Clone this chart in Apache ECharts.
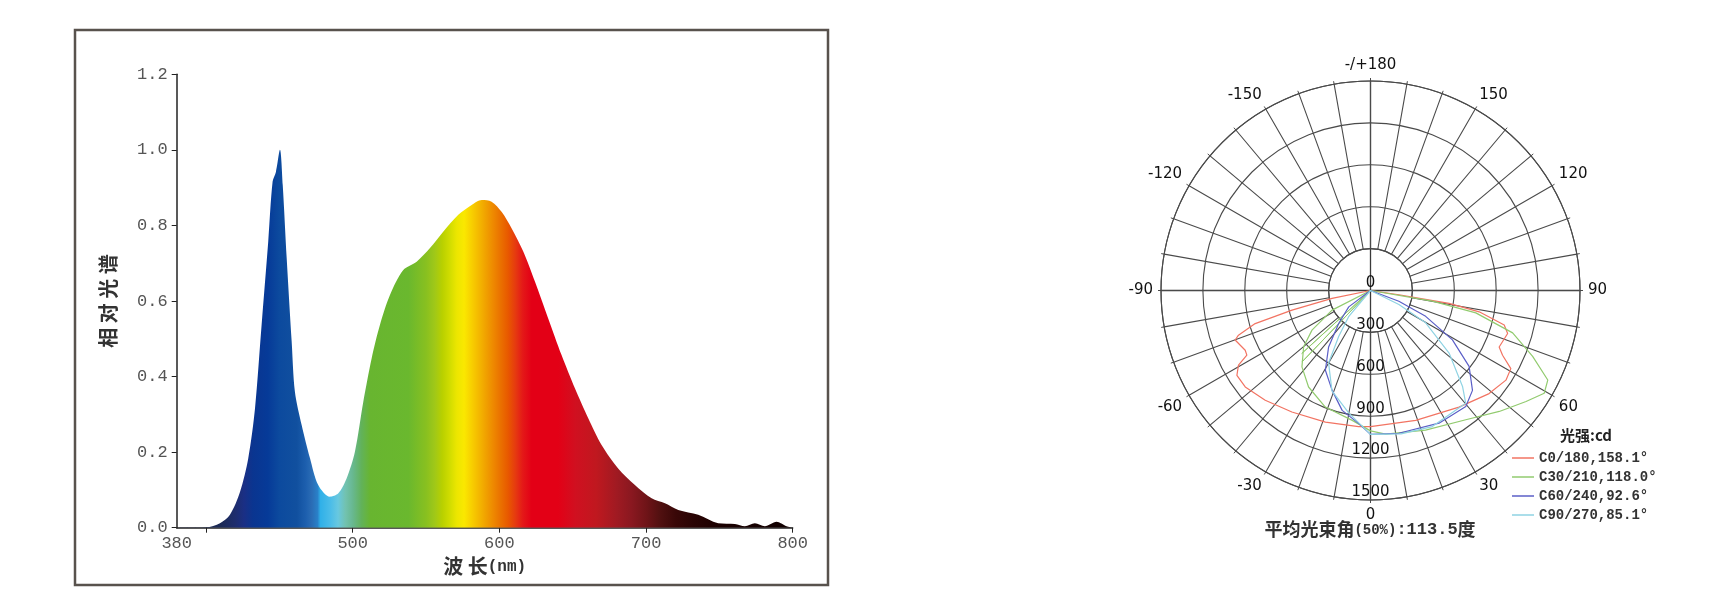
<!DOCTYPE html>
<html><head><meta charset="utf-8">
<script src="https://cdn.jsdelivr.net/npm/echarts@6/dist/echarts.min.js"></script>
<style>html,body{margin:0;padding:0;background:#fff}#c{width:1715px;height:606px}</style>
</head><body><div id="c"></div>
<script>
// ---- Spectrum data ----
const wavelengths = [380,400,409.5,416.3,423.2,428.8,433.4,437.9,442.4,445.4,447.7,450.4,452.3,455,458.4,460.6,465.2,470.9,476.5,484.5,490.2,495.9,501.5,507.2,512.9,518.6,525.4,534.5,543.6,552.7,561.7,572,581.1,588,594.7,601.5,608.4,616.3,624.3,633.3,642.4,651.5,660.6,669.7,681,692.4,703.8,712.9,722,735.6,749.2,760.6,767.4,774.2,781,789,795.8,800];
const relSpectrum = [0,0.001,0.012,0.034,0.095,0.184,0.316,0.537,0.757,0.916,0.942,1.0,0.907,0.713,0.492,0.36,0.272,0.184,0.113,0.082,0.091,0.131,0.201,0.333,0.448,0.537,0.616,0.682,0.704,0.74,0.783,0.828,0.854,0.867,0.863,0.836,0.792,0.731,0.651,0.554,0.457,0.369,0.29,0.219,0.157,0.113,0.078,0.065,0.047,0.034,0.012,0.01,0.004,0.012,0.004,0.016,0.004,0];
const xLabelValues = [380,500,600,700,800];
const xTickValues = [400,500,600,700,800];

// ---- Polar (light distribution) data: [intensity cd], [gamma deg] ----
const c0Angle = [-90,-78.5,-76,-74,-71.3,-69.9,-64.5,-62.4,-60.5,-57.6,-52.4,-43.8,-32.9,-18.9,-5,0,19.2,37.2,49,56.5,60.9,63.9,66.3,72.6,75.5,78.9,80.7,81.5,90];
const c0Int   = [0,281,579,859,998,1032,994,999,1086,1133,1132,1089,1036,996,979,975,985,1048,1125,1163,1150,1053,1006,1029,989,793,570,206,0];
const c30Angle = [-90,-63,-55.9,-49.9,-41.9,-32.7,-21.2,-8,0,6,21.5,36.4,46.8,54.5,59.4,63.2,67.9,73.4,78,80.2,90];
const c30Int   = [0,309,506,626,735,821,895,939,1005,1034,1075,1150,1265,1368,1445,1422,1253,1062,771,450,0];
const c30SpokeAngle = [-90,-43.8,-90,-47.5,-90];
const c30SpokeInt   = [0,708,0,668,0];
const c60Angle = [-90,-53,-44,-36.6,-29.5,-21,-13.3,-5,0,11.2,27.3,39.4,45.6,52.4,58.9,64.9,69.3,90];
const c60Int   = [0,195,328,503,656,766,882,957,1030,1042,1069,1075,1022,891,685,436,217,0];
const c90Angle = [-90,-40,-34.7,-30,-21,-10,0,12,24.4,40.2,43.8,51.5,59.6,63.7,90];
const c90Int   = [0,241,399,600,770,892,1030,1050,1070,1056,952,719,458,227,0];
const seriesNames = ['C0/180,158.1°','C30/210,118.0°','C60/240,92.6°','C90/270,85.1°'];
const seriesColors = ['#f27463','#92cb6f','#5b5fc7','#8fd3e3'];

function pairs(a, b){ return a.map((v,i)=>[v,b[i]]); }
// gamma angle (-180..180) -> angle axis value (0..360)
function toAxis(g){ return g < 0 ? g + 360 : g; }
function polarPairs(ints, angs){ return ints.map((v,i)=>[v, toAxis(angs[i])]); }

// spectrum gradient stops (wavelength -> colour)
const specStops = [
 [380,'#1c2a55'],[410,'#1c2a55'],[420,'#1e2d6e'],[426,'#1a2f85'],[432,'#0a3590'],[442,'#063a98'],[450,'#0c4a9e'],[462,'#11509f'],[468,'#1d5fae'],[472,'#2a6cb5'],[476,'#2a80c8'],[478,'#30b0e8'],[485,'#4cbde8'],[490,'#68c8e0'],[495,'#72c2b0'],[500,'#68b890'],[506,'#62b25a'],[512,'#68b530'],[538,'#6ab82e'],[550,'#88c020'],[556,'#a0c818'],[561,'#b8d000'],[566,'#d0dc00'],[571,'#ece600'],[576,'#fae800'],[581,'#f8d000'],[586,'#f4b800'],[591,'#f0a000'],[596,'#ee8800'],[601,'#ea7000'],[606,'#e85800'],[611,'#e63a10'],[616,'#e41818'],[622,'#e30016'],[640,'#e30016'],[652,'#d01020'],[666,'#c0181f'],[680,'#a01a22'],[690,'#8a1820'],[700,'#701418'],[710,'#501010'],[720,'#3a0808'],[732,'#2a0404'],[750,'#1a0000'],[800,'#100000']
];
const gradStops = specStops.map(s=>({offset:(s[0]-380)/420, color:s[1]}));

const chart = echarts.init(document.getElementById('c'), null, {renderer:'canvas'});
const mono = "'Liberation Mono', 'DejaVu Sans Mono', monospace";
const cjk = "'Noto Sans CJK SC', 'Noto Sans', sans-serif";
const sans = "'DejaVu Sans', sans-serif";

const option = {
  animation: false,
  backgroundColor: '#ffffff',
  graphic: [
    {type:'rect', shape:{x:75, y:30, width:753, height:555}, style:{fill:null, stroke:'#58524d', lineWidth:2.5}, z:-1},
    {type:'text', x:1560, y:435, style:{text:'光强:cd', font:"bold 15px "+cjk, fill:'#222', verticalAlign:'middle', align:'left'}},
    {type:'text', x:1370, y:529, style:{
      text:'{a|平均光束角}{b|(50%)}{c|:113.5}{a|度}', align:'center', verticalAlign:'middle',
      rich:{
        a:{fontFamily:cjk, fontSize:18, fontWeight:'bold', fill:'#333', color:'#333', verticalAlign:'bottom', lineHeight:22, height:22},
        b:{fontFamily:mono, fontSize:14, fontWeight:'bold', fill:'#333', color:'#333', verticalAlign:'bottom', lineHeight:20, height:20},
        c:{fontFamily:mono, fontSize:17, fontWeight:'bold', fill:'#333', color:'#333', verticalAlign:'bottom', lineHeight:21, height:21}
      }
    }}
  ],
  grid: {left:176.7, right:922.3, top:74.3, bottom:78.3},
  xAxis: {
    type:'value', min:380, max:800,
    name:'{z|波 长}{n|(nm)}', nameLocation:'middle', nameGap:29,
    nameTextStyle:{rich:{z:{fontFamily:cjk, fontSize:20, fontWeight:'bold', color:'#333'}, n:{fontFamily:mono, fontSize:16, fontWeight:'bold', color:'#333'}}},
    axisLine:{show:true, onZero:false, lineStyle:{color:'#222', width:1.5}},
    axisTick:{show:true, length:5, customValues:xTickValues, lineStyle:{color:'#222'}},
    axisLabel:{customValues:xLabelValues, fontFamily:mono, fontSize:17, color:'#555', margin:7},
    splitLine:{show:false}
  },
  yAxis: {
    type:'value', min:0, max:1.2, interval:0.2,
    name:'相 对 光 谱', nameLocation:'middle', nameGap:58,
    nameTextStyle:{fontFamily:cjk, fontSize:20, fontWeight:'bold', color:'#333'},
    axisLine:{show:true, lineStyle:{color:'#222', width:1.5}},
    axisTick:{show:true, length:5, lineStyle:{color:'#222'}},
    axisLabel:{fontFamily:mono, fontSize:17, color:'#555', margin:9, formatter:v=>v.toFixed(1)},
    splitLine:{show:false}
  },
  polar: [
    {center:[1370.5,290.5], radius:[0,209.5]},
    {center:[1370.5,290.5], radius:[41.9,209.5]}
  ],
  angleAxis: [
    {polarIndex:0, type:'value', min:0, max:360, interval:90, startAngle:270, clockwise:false,
     axisLine:{show:false}, axisTick:{show:false}, axisLabel:{show:false},
     splitLine:{show:true, lineStyle:{color:'#3a3a3a', width:1.3}}},
    {polarIndex:1, type:'value', min:0, max:360, interval:10, startAngle:270, clockwise:false,
     axisLine:{show:true, lineStyle:{color:'#4a4a4a', width:1.1}},
     axisTick:{show:true, length:3, lineStyle:{color:'#4a4a4a'}},
     axisLabel:{margin:8, fontFamily:sans, fontSize:15, color:'#111',
       formatter:function(v){
         if (v % 30 !== 0) return '';
         if (v === 180) return '-/+180';
         return String(v > 180 ? v - 360 : v);
       }},
     splitLine:{show:true, lineStyle:{color:'#4a4a4a', width:1.1}}}
  ],
  radiusAxis: [
    {polarIndex:0, type:'value', min:0, max:1500, interval:300,
     axisLine:{show:false}, axisTick:{show:false}, splitLine:{show:false},
     axisLabel:{show:true, margin:0, align:'center', verticalAlign:'bottom', fontFamily:sans, fontSize:15, color:'#111', formatter:v=>String(v)}},
    {polarIndex:1, type:'value', min:300, max:1500, interval:300,
     axisLine:{show:false}, axisTick:{show:false}, axisLabel:{show:false},
     splitLine:{show:true, lineStyle:{color:'#4a4a4a', width:1.1}}}
  ],
  legend: {
    data: seriesNames, orient:'vertical', left:1507, top:446, icon:'rect', itemWidth:22, itemHeight:1.5, itemGap:5,
    textStyle:{fontFamily:mono, fontSize:14, fontWeight:'bold', color:'#333', lineHeight:14},
    selectedMode:false
  },
  series: [
    {type:'line', name:'spectrum', xAxisIndex:0, yAxisIndex:0, data:pairs(wavelengths, relSpectrum),
     smooth:0.3, symbol:'none', lineStyle:{width:0},
     areaStyle:{opacity:1, color:new echarts.graphic.LinearGradient(0,0,1,0,gradStops)}},
    {type:'line', name:seriesNames[0], coordinateSystem:'polar', polarIndex:0, data:polarPairs(c0Int,c0Angle), symbol:'none', lineStyle:{color:seriesColors[0], width:1.2}, itemStyle:{color:seriesColors[0]}},
    {type:'line', name:seriesNames[1], coordinateSystem:'polar', polarIndex:0, data:polarPairs(c30Int,c30Angle), symbol:'none', lineStyle:{color:seriesColors[1], width:1.2}, itemStyle:{color:seriesColors[1]}},
    {type:'line', name:'c30spokes', coordinateSystem:'polar', polarIndex:0, data:polarPairs(c30SpokeInt,c30SpokeAngle), symbol:'none', lineStyle:{color:seriesColors[1], width:1}, itemStyle:{color:seriesColors[1]}},
    {type:'line', name:seriesNames[2], coordinateSystem:'polar', polarIndex:0, data:polarPairs(c60Int,c60Angle), symbol:'none', lineStyle:{color:seriesColors[2], width:1.2}, itemStyle:{color:seriesColors[2]}},
    {type:'line', name:seriesNames[3], coordinateSystem:'polar', polarIndex:0, data:polarPairs(c90Int,c90Angle), symbol:'none', lineStyle:{color:seriesColors[3], width:1.2}, itemStyle:{color:seriesColors[3]}}
  ]
};
chart.setOption(option);
</script>
</body></html>
